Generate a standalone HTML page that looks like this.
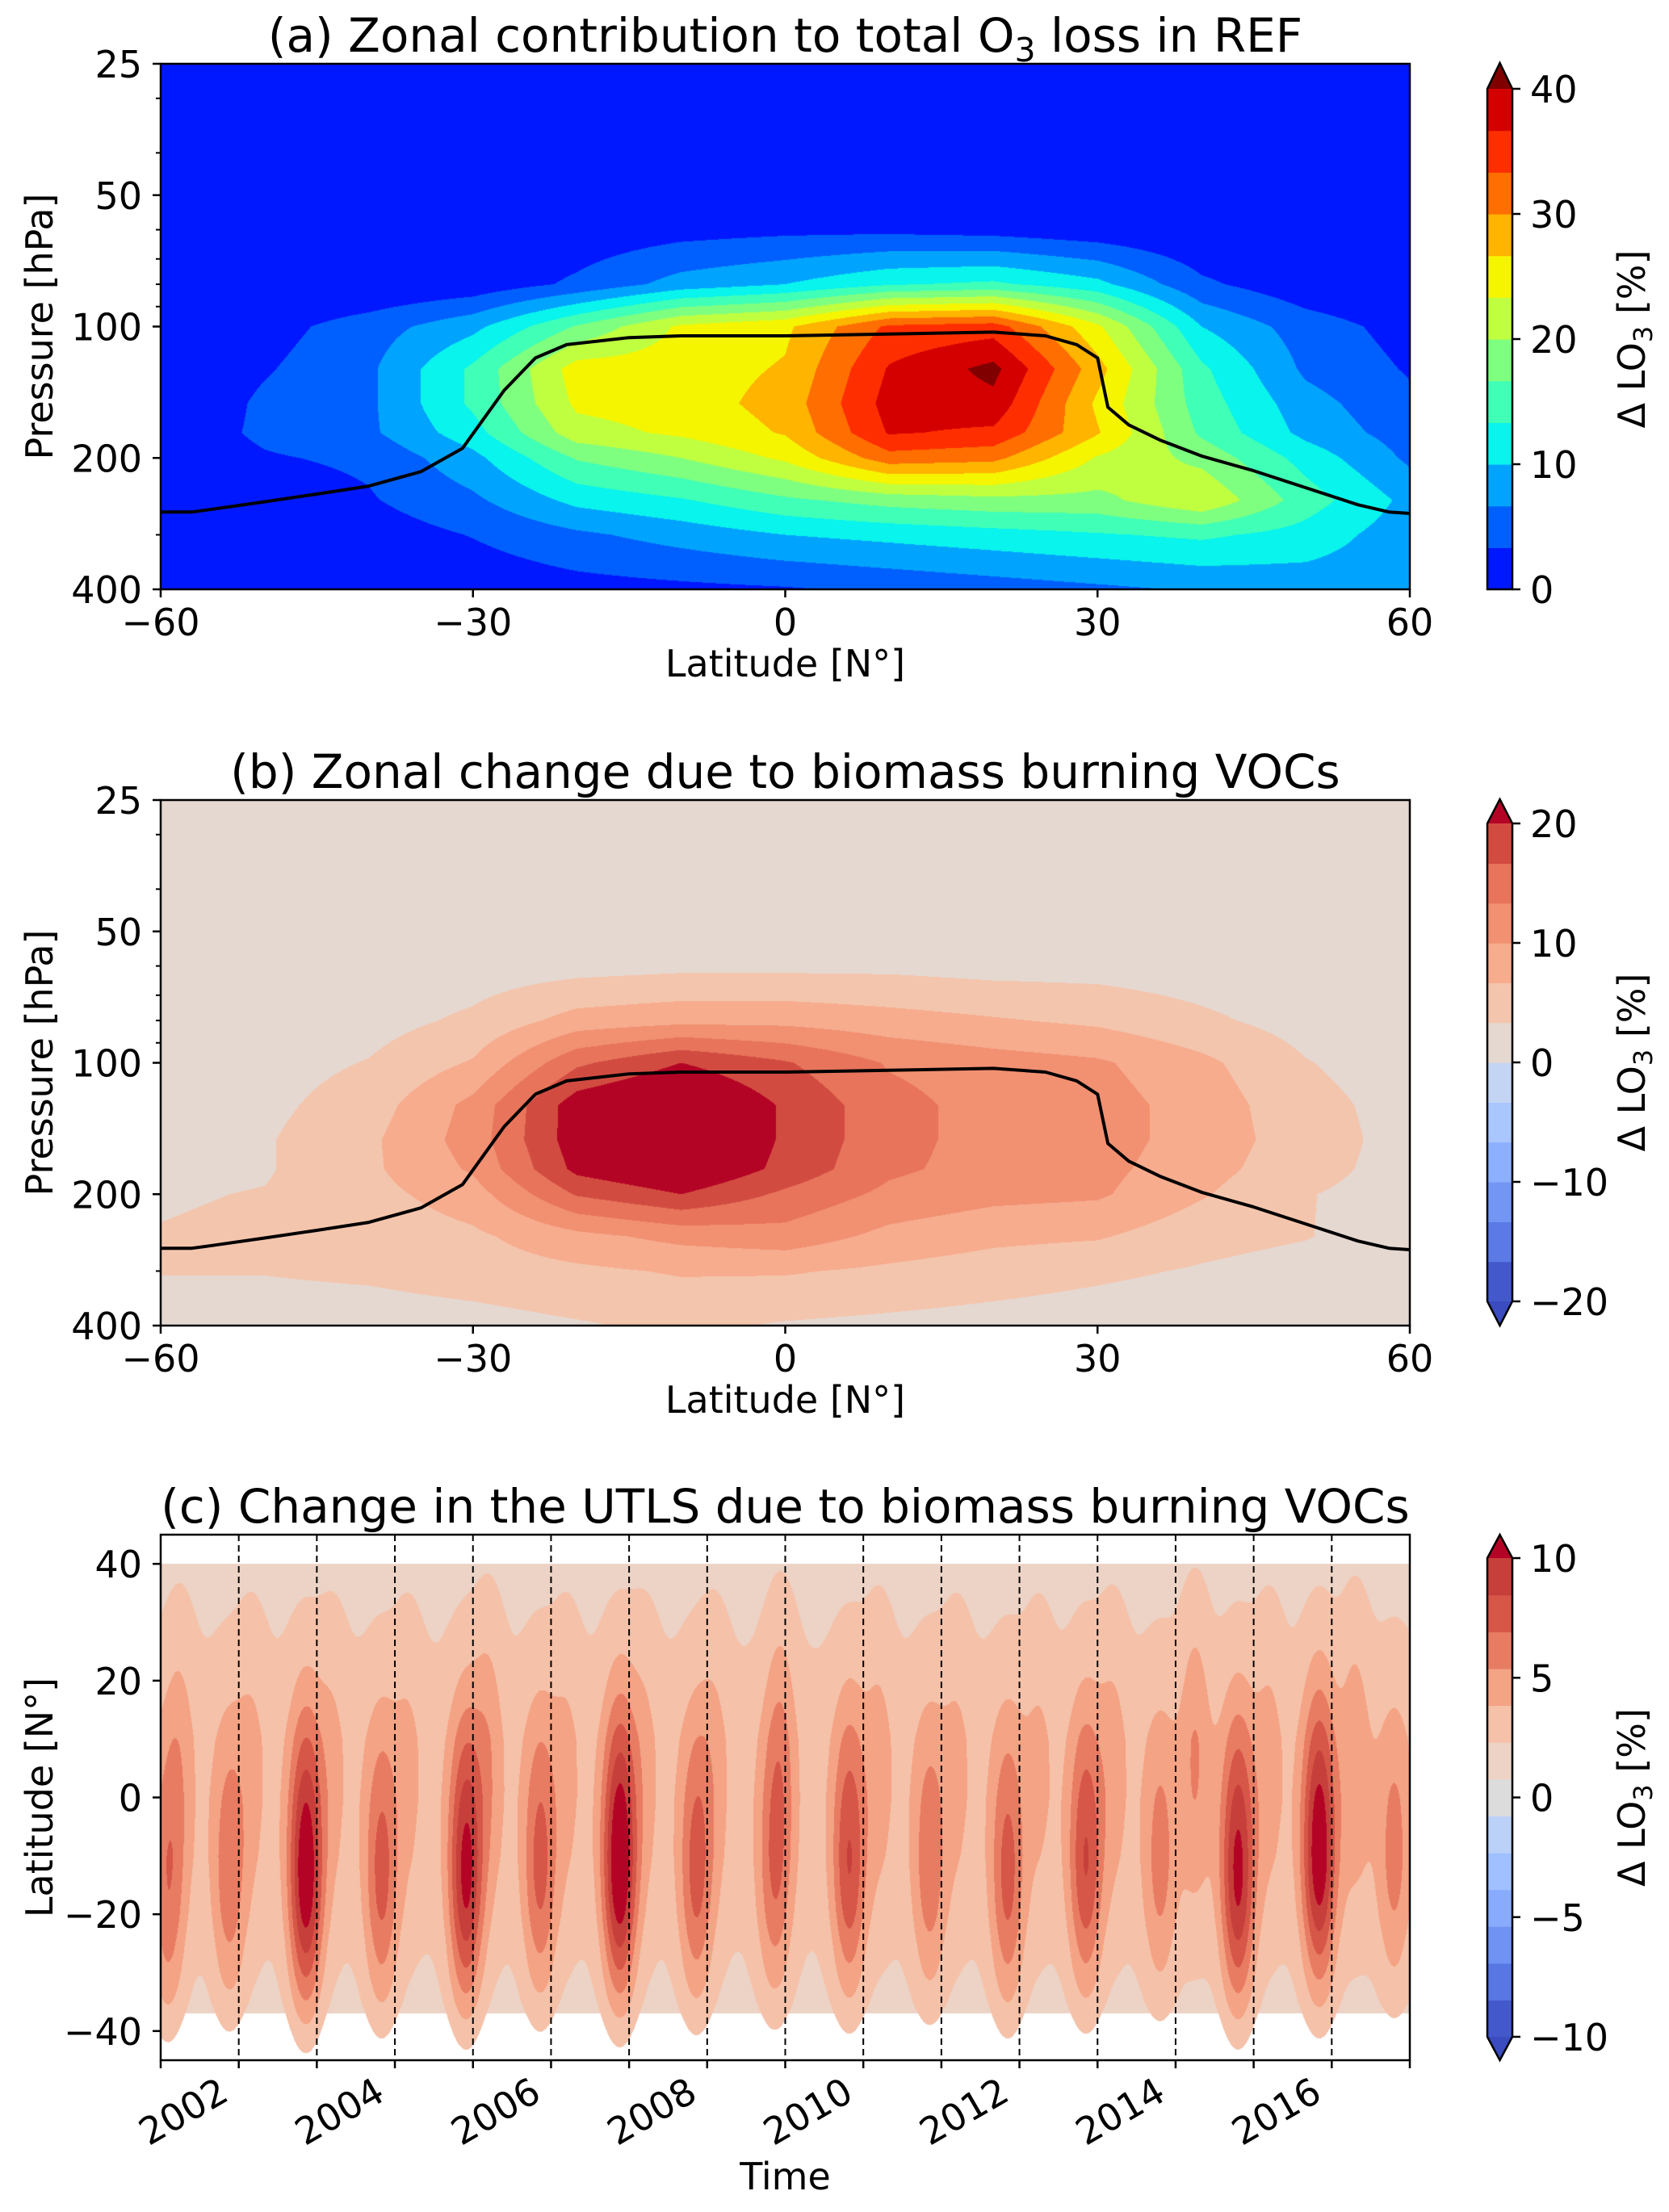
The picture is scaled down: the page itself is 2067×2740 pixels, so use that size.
<!DOCTYPE html>
<html><head><meta charset="utf-8">
<style>
html,body{margin:0;padding:0;background:#fff;}
#wrap{position:relative;width:2067px;height:2740px;overflow:hidden;background:#fff;}
canvas{position:absolute;}
svg{position:absolute;left:0;top:0;}
text{font-family:"DejaVu Sans","Liberation Sans",sans-serif;fill:#000;}
</style></head>
<body>
<div id="wrap">
<canvas id="ca" width="1547" height="651" style="left:199px;top:79px"></canvas>
<canvas id="cb" width="1547" height="651" style="left:199px;top:991px"></canvas>
<canvas id="cc" width="1547" height="651" style="left:199px;top:1901px"></canvas>
<svg id="ov" width="2067" height="2740" xmlns="http://www.w3.org/2000/svg"></svg>
</div>
<script>
// ---------- Panel (a) data: zonal contribution (%) on lat x pressure grid ----------
const latGrid = [-60,-50,-40,-30,-20,-10,0,10,20,30,40,50,60];
const presGrid = [40,60,80,100,125,150,175,200,250,300,400];
const valsA_p40  = [0,0,0,0,0,0,0,0,0,0,0,0,0];
const valsA_p60  = [0,0,0,0,1,2,2.5,2.5,2,1,0,0,0];
const valsA_p80  = [0,0,0,1,4,8,10,13,14,11,4,1,0];
const valsA_p100 = [0.5,2,5,9,17,24,26,34,35,24,10,5,2];
const valsA_p125 = [0,3,6,14,25,25,27,37,41,28,14,6,3];
const valsA_p150 = [0,4,6,14,24,25,28,38,39,26,15,8,4];
const valsA_p175 = [1,4,6,12,22,24,27,37,36,27,16,9,5];
const valsA_p200 = [1,3,4,9,17,20,24,32,31,23,19,12,6];
const valsA_p250 = [0.5,1,3,6,11,13,16,18,19,19,23,15,9];
const valsA_p300 = [0,0,1.5,3.5,6,8,10,11,12,13,14,12,8];
const valsA_p400 = [0,0,0,1,2,2.5,3,4,5,6,7,8,8];
// ---------- Panel (b) data: change due to biomass burning VOCs (%) ----------
const valsB_p40  = [0.5,0.5,0.5,0.5,0.5,0.5,0.5,0.5,0.5,0.5,0.5,0.5,0.5];
const valsB_p60  = [1,1,1,1.5,2,2.5,2.5,2.5,2,2,1.5,1,1];
const valsB_p80  = [1,1,2,4,8,9,9,8,7,6,4,2,1];
const valsB_p100 = [1.5,2,3.5,7,16,20,17,13,11.5,10.5,7.5,3.5,1.5];
const valsB_p125 = [2,2.5,5,11,22,25,19.5,14.5,12,11.5,8.5,4.5,2];
const valsB_p150 = [2,3,6,11.5,22,25,19.5,14.5,12,11.5,8.5,5,2];
const valsB_p175 = [2.5,3,6,10.5,21,24,19,14,12,11,8,4.5,2];
const valsB_p200 = [3,3.5,5.5,8.5,17,20,16,12.5,11,10.5,7,3.5,2];
const valsB_p250 = [3.5,4,4.5,6,9,11,12,9,7.5,7,4.5,3.5,1.5];
const valsB_p300 = [3.5,3.5,4,5,6,7,7,6,5,4,3,2,1.5];
const valsB_p400 = [1.5,1.5,1.5,2,3,4,3,2.5,2,1.5,1,1,1];
// ---------- Tropopause line ----------
const tropLat = [-60,-57,-55,-50,-45,-40,-35,-31,-30,-27,-24,-21,-15,-10,0,10,20,25,28,30,31,33,36,40,45,50,55,58,60];
const tropP   = [266,266,262,252,242,232,215,190,176,140,118,110,106,105,105,104,103,105,110,118,153,168,182,198,214,234,256,266,268];
// ---------- Panel (c) data: UTLS change vs time and latitude ----------
const evTimes  = [2001.09,2001.88,2002.86,2003.83,2004.91,2005.86,2006.88,2007.86,2008.86,2009.82,2010.85,2011.85,2012.85,2013.8,2014.8,2015.84,2016.8];
const evPeaks  = [6.5,6.5,11.5,7.5,10.5,7.5,12,7.5,6.5,8.5,6.5,7.5,8.5,6,10.5,11.5,6];
const evLats   = [-18,-15,-14,-15,-14,-13,-12,-14,-14,-12,-13,-15,-12,-13,-14,-10,-12];
const secTimes = [2001.25,2002.17,2003.2,2004.17,2005.2,2006.2,2007.2,2008.1,2008.95,2010.2,2011.2,2012.25,2013.2,2014.25,2015.2,2016.3];
const secPeaks = [4.5,4.2,4.2,4.2,5,4.2,4.2,4.2,5,4.5,4.2,4.2,4.5,5.5,4.5,5];
const baseLats = [-45,-40,-35,-30,-25,-20,-10,0,10,20,30,35,40,45];
const baseVals = [0.8,1.3,1.8,2.1,2.3,2.6,3.0,3.1,3.0,2.5,2.1,1.9,1.7,1.6];
// tick labels
const presTicks = [25,50,100,200,400];
const presMinor = [30,40,60,70,80,90,300];
const latTicks = [-60,-30,0,30,60];
const latTicksC = [-40,-20,0,20,40];
const yearLabels = [2002,2004,2006,2008,2010,2012,2014,2016];
const cbTicksA = [0,10,20,30,40];
const cbTicksB = [-20,-10,0,10,20];
const cbTicksC = [-10,-5,0,5,10];

// colors
const colA = ['#0018ff','#0060ff','#00a4ff','#08f4ec','#40ffb7','#7fff7f','#bfff40','#f5f500','#ffb400','#ff6e00','#ff2e00','#d40000'];
const overA = '#800000';
const colB = ['#4358cb','#5b7ae5','#7396f5','#8db0fe','#a9c6fd','#c4d5f3','#e5d8d1','#f4c5ad','#f7ac8e','#f29072','#e7745b','#d24b40'];
const colC = ['#4358cb','#5977e3','#6f92f3','#88abfd','#a1c0ff','#bbd1f8','#dddcdc','#ecd3c5','#f5c1a9','#f4a384','#e87c63','#d65647','#c63f3a'];
const underBlue = '#3b4cc0', overRed = '#b40426';

const PA={L:199,R:1746,T:79,B:730}, PB={L:199,R:1746,T:991,B:1642}, PC={L:199,R:1746,T:1901,B:2552};
const W=1547,H=651;
const lgLo=Math.log(25), lgHi=Math.log(400);
function yP(P,p){return P.T+(Math.log(p)-lgLo)/(lgHi-lgLo)*(P.B-P.T);}
function xLat(P,l){return P.L+(l+60)/120*(P.R-P.L);}
function xT(P,t){return P.L+(t-2001)/16*(P.R-P.L);}
function yLatC(P,l){return P.T+(45-l)/90*(P.B-P.T);}

function hex(c){return [parseInt(c.substr(1,2),16),parseInt(c.substr(3,2),16),parseInt(c.substr(5,2),16)];}
function renderGrid(id,rows,lo,hi,cols,under,over){
  const cv=document.getElementById(id),ctx=cv.getContext('2d');
  const img=ctx.createImageData(W,H);
  const lp=presGrid.map(Math.log);
  const colsRGB=cols.map(hex),uR=hex(under),oR=hex(over);
  const ci=[],cf=[];
  for(let x=0;x<W;x++){let lat=-60+(x+0.5)/W*120;let f=(lat+60)/10;let i=Math.min(11,Math.floor(f));ci.push(i);cf.push(f-i);}
  for(let y=0;y<H;y++){
    const p=Math.log(25)+(y+0.5)/H*(Math.log(400)-Math.log(25));
    let j,g;
    if(p<=lp[0]){j=0;g=0;} else {j=0;while(j<lp.length-2&&p>lp[j+1])j++;g=(p-lp[j])/(lp[j+1]-lp[j]);if(g>1)g=1;}
    const r0=rows[j],r1=rows[j+1];
    for(let x=0;x<W;x++){
      const i=ci[x],f=cf[x];
      const a=r0[i]*(1-f)+r0[i+1]*f,b=r1[i]*(1-f)+r1[i+1]*f;
      const v=a*(1-g)+b*g;
      const n=cols.length;let c;
      if(v<lo)c=uR;else if(v>=hi)c=oR;else{let k=Math.floor((v-lo)/(hi-lo)*n);if(k>=n)k=n-1;c=colsRGB[k];}
      const o=(y*W+x)*4;img.data[o]=c[0];img.data[o+1]=c[1];img.data[o+2]=c[2];img.data[o+3]=255;
    }
  }
  ctx.putImageData(img,0,0);
}
renderGrid('ca',[valsA_p40,valsA_p60,valsA_p80,valsA_p100,valsA_p125,valsA_p150,valsA_p175,valsA_p200,valsA_p250,valsA_p300,valsA_p400],0,40,colA,colA[0],overA);
renderGrid('cb',[valsB_p40,valsB_p60,valsB_p80,valsB_p100,valsB_p125,valsB_p150,valsB_p175,valsB_p200,valsB_p250,valsB_p300,valsB_p400],-20,20,colB,underBlue,overRed);

function baseAt(l){
  if(l<=baseLats[0])return baseVals[0];
  for(let i=0;i<baseLats.length-1;i++){if(l<=baseLats[i+1]){const f=(l-baseLats[i])/(baseLats[i+1]-baseLats[i]);return baseVals[i]*(1-f)+baseVals[i+1]*f;}}
  return baseVals[baseVals.length-1];
}
(function renderC(){
  const cv=document.getElementById('cc'),ctx=cv.getContext('2d');
  const img=ctx.createImageData(W,H);
  const colsRGB=colC.map(hex),uR=hex(underBlue),oR=hex(overRed);
  const tF=[],sF=[];
  for(let e=0;e<evTimes.length;e++){const a=new Float32Array(W);for(let x=0;x<W;x++){const t=2001+(x+0.5)/W*16;const d=(t-evTimes[e])/0.22;a[x]=Math.exp(-d*d);}tF.push(a);}
  for(let e=0;e<secTimes.length;e++){const a=new Float32Array(W);for(let x=0;x<W;x++){const t=2001+(x+0.5)/W*16;const d=(t-secTimes[e])/0.2;a[x]=Math.exp(-d*d);}sF.push(a);}
  for(let y=0;y<H;y++){
    const lat=45-(y+0.5)/H*90;const b=baseAt(lat);
    const lf=evLats.map((lc,e)=>{const s=lat>lc?27:22;const d=(lat-lc)/s;return (evPeaks[e]-baseAt(lc))*Math.exp(-d*d);});
    const d2=(lat-8)/26;const sl=Math.exp(-d2*d2);
    const sa=secPeaks.map(p=>(p-baseAt(8))*sl);
    for(let x=0;x<W;x++){
      let v=b;
      for(let e=0;e<lf.length;e++)v+=lf[e]*tF[e][x];
      for(let e=0;e<sa.length;e++)v+=sa[e]*sF[e][x];
      const o=(y*W+x)*4;let c;
      if((lat>40&&v<2.3)||(lat<-37&&v<2.3)){c=[255,255,255];}
      else if(v<-10)c=uR;else if(v>=10)c=oR;else{let k=Math.floor((v+10)/20*13);if(k>12)k=12;c=colsRGB[k];}
      img.data[o]=c[0];img.data[o+1]=c[1];img.data[o+2]=c[2];img.data[o+3]=255;
    }
  }
  ctx.putImageData(img,0,0);
})();

// ---------- SVG overlay ----------
const NS='http://www.w3.org/2000/svg';
const svg=document.getElementById('ov');
function el(tag,attrs,parent){const e=document.createElementNS(NS,tag);for(const k in attrs)e.setAttribute(k,attrs[k]);(parent||svg).appendChild(e);return e;}
function txt(s,x,y,size,anchor,parent,extra){const t=el('text',Object.assign({x:x,y:y,'font-size':size,'text-anchor':anchor||'start'},extra||{}),parent);t.textContent=s;return t;}
function fmt(v){return v<0?'\u2212'+Math.abs(v):String(v);}

function frame(P,name){
  const r=el('rect',{x:P.L,y:P.T,width:P.R-P.L,height:P.B-P.T,fill:'none',stroke:'#000','stroke-width':2.5});
  
  
}
function pressureAxis(P,g){
  presTicks.forEach(p=>{const y=yP(P,p);el('line',{x1:P.L-10,x2:P.L,y1:y,y2:y,stroke:'#000','stroke-width':2.5},g);
    const t=txt(String(p),176,y+17,46,'end',g);
    
    });
  presMinor.forEach(p=>{const y=yP(P,p);el('line',{x1:P.L-6,x2:P.L,y1:y,y2:y,stroke:'#000','stroke-width':2},g);});
}
function latAxis(P,g){
  latTicks.forEach(l=>{const x=xLat(P,l);el('line',{x1:x,x2:x,y1:P.B,y2:P.B+10,stroke:'#000','stroke-width':2.5},g);
    const t=txt(fmt(l),x,P.B+57,46,'middle',g);
    
    });
  const xl=txt('Latitude [N\u00b0]',(P.L+P.R)/2,P.B+108,46,'middle',g);
  
  
}
function ylabel(s,P,g){
  const cy=(P.T+P.B)/2;
  const t=txt(s,65,cy,46,'middle',g,{transform:'rotate(-90 65 '+cy+')'});
  
  
}
function title(parts,P,name,size){
  const t=el('text',{x:(P.L+P.R)/2,y:P.T-15,'font-size':size,'text-anchor':'middle'});
  
  
  parts.forEach(pt=>{const s=el('tspan',pt.sub?{'font-size':Math.round(size*0.7),dy:12}:(pt.after?{dy:-12}:{}),t);s.textContent=pt.t;});
}
function tropLine(P,name){
  let d='';tropLat.forEach((l,i)=>{d+=(i?'L':'M')+xLat(P,l).toFixed(1)+' '+yP(P,tropP[i]).toFixed(1);});
  const p=el('path',{d:d,fill:'none',stroke:'#000','stroke-width':4,'stroke-linejoin':'round'});
  
  
}
function colorbar(top,bot,tipTop,tipBot,lo,hi,cols,overC,underC,ticks,name){
  const g=el('g',{});
  
  
  const x0=1842,x1=1873,n=cols.length,h=(bot-top)/n;
  cols.forEach((c,i)=>{el('rect',{x:x0,y:bot-(i+1)*h,width:x1-x0,height:h+0.6,fill:c},g);});
  el('polygon',{points:x0+','+top+' '+x1+','+top+' '+(x0+x1)/2+','+tipTop,fill:overC},g);
  let outline='M'+x0+' '+bot+'L'+x0+' '+top+'L'+(x0+x1)/2+' '+tipTop+'L'+x1+' '+top+'L'+x1+' '+bot;
  if(tipBot!==null){el('polygon',{points:x0+','+bot+' '+x1+','+bot+' '+(x0+x1)/2+','+tipBot,fill:underC},g);outline+='L'+(x0+x1)/2+' '+tipBot+'Z';}
  else outline+='Z';
  el('path',{d:outline,fill:'none',stroke:'#000','stroke-width':2.5},g);
  ticks.forEach(v=>{const y=bot-(v-lo)/(hi-lo)*(bot-top);el('line',{x1:x1,x2:x1+10,y1:y,y2:y,stroke:'#000','stroke-width':2.5},g);
    const t=txt(fmt(v),1895,y+17,46,'start',g);
    
    });
  const cy=(top+bot)/2;
  const lab=el('text',{x:2037,y:cy,'font-size':46,'text-anchor':'middle',transform:'rotate(-90 2037 '+cy+')'},g);
  
  
  const a=el('tspan',{},lab);a.textContent='\u0394 LO';
  const b=el('tspan',{'font-size':32,dy:9},lab);b.textContent='3';
  const c=el('tspan',{dy:-9},lab);c.textContent=' [%]';
}

// Panel a
const ga=el('g',{});
tropLine(PA,'tropopause-line-a');
frame(PA,'panel-a-frame');
pressureAxis(PA,ga);latAxis(PA,ga);ylabel('Pressure [hPa]',PA,ga);
title([{t:'(a) Zonal contribution to total O'},{t:'3',sub:true},{t:' loss in REF',after:true}],PA,'panel-a-title',58);
colorbar(110,730,78,null,0,40,colA,overA,null,cbTicksA,'colorbar-a');

// Panel b
const gb=el('g',{});
tropLine(PB,'tropopause-line-b');
frame(PB,'panel-b-frame');
pressureAxis(PB,gb);latAxis(PB,gb);ylabel('Pressure [hPa]',PB,gb);
title([{t:'(b) Zonal change due to biomass burning VOCs'}],PB,'panel-b-title',58);
colorbar(1020,1612,990,1642,-20,20,colB,overRed,underBlue,cbTicksB,'colorbar-b');

// Panel c
const gc=el('g',{});
for(let yr=2002;yr<=2016;yr++){const x=xT(PC,yr);
  const dl=el('line',{x1:x,x2:x,y1:PC.T,y2:PC.B,stroke:'#000','stroke-width':2,'stroke-dasharray':'8,5'},gc);
  
  }
frame(PC,'panel-c-frame');
for(let yr=2001;yr<=2017;yr++){const x=xT(PC,yr);el('line',{x1:x,x2:x,y1:PC.B,y2:PC.B+10,stroke:'#000','stroke-width':2.5},gc);}
yearLabels.forEach(yr=>{const x=xT(PC,yr)-10,y=PC.B+48;
  const t=txt(String(yr),x,y,46,'end',gc,{transform:'rotate(-30 '+x+' '+y+')'});
  
  });
latTicksC.forEach(l=>{const y=yLatC(PC,l);el('line',{x1:PC.L-10,x2:PC.L,y1:y,y2:y,stroke:'#000','stroke-width':2.5},gc);
  const t=txt(fmt(l),176,y+17,46,'end',gc);
  
  });
const tl=txt('Time',(PC.L+PC.R)/2,2712,46,'middle',gc);


ylabel('Latitude [N\u00b0]',PC,gc);
title([{t:'(c) Change in the UTLS due to biomass burning VOCs'}],PC,'panel-c-title',58);
colorbar(1930,2523,1901,2552,-10,10,colC,overRed,underBlue,cbTicksC,'colorbar-c');
</script>
</body></html>
